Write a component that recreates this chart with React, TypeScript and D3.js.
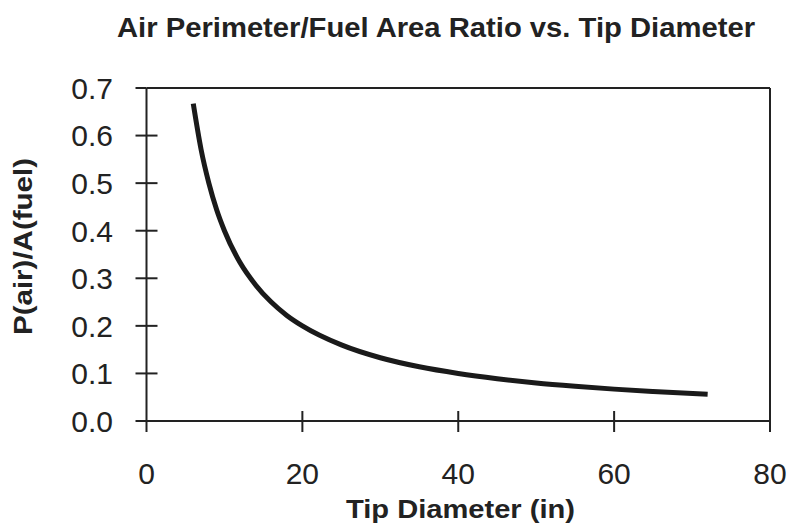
import React from "react";
import * as d3 from "d3";

const diameters = [6, 7, 8, 9, 10, 12, 14, 16, 18, 20, 25, 30, 35, 40, 45, 50, 55, 60, 65, 72];
const ratios = [0.667, 0.571, 0.5, 0.444, 0.4, 0.333, 0.286, 0.25, 0.222, 0.2, 0.16, 0.133, 0.114, 0.1, 0.089, 0.08, 0.073, 0.067, 0.062, 0.056];
const xTicks = [0, 20, 40, 60, 80];
const yTicks = [0, 0.1, 0.2, 0.3, 0.4, 0.5, 0.6, 0.7];

const W = 788;
const H = 528;
const M = { left: 146.5, right: 770, top: 88, bottom: 421 };
const font = "'Liberation Sans', Arial, Helvetica, sans-serif";
const ink = "#222";

export default function App() {
  const x = d3.scaleLinear().domain([0, 80]).range([M.left, M.right]);
  const y = d3.scaleLinear().domain([0, 0.7]).range([M.bottom, M.top]);
  const pts: [number, number][] = diameters.map((d, i) => [d, ratios[i]]);
  const line = d3
    .line<[number, number]>()
    .x((d) => x(d[0]))
    .y((d) => y(d[1]))
    .curve(d3.curveMonotoneX);

  return (
    <svg
      width={W}
      height={H}
      style={{ position: "absolute", left: 0, top: 0, background: "#fff" }}
      fontFamily={font}
    >
      <rect x={0} y={0} width={W} height={H} fill="#fff" />
      <text
        x={117}
        y={37}
        fontWeight="bold"
        fontSize={27}
        fill={ink}
        textLength={638}
        lengthAdjust="spacingAndGlyphs"
      >
        Air Perimeter/Fuel Area Ratio vs. Tip Diameter
      </text>
      {/* frame */}
      <line x1={M.left} x2={M.right} y1={M.top} y2={M.top} stroke={ink} strokeWidth={2} />
      <line x1={M.right} x2={M.right} y1={M.top} y2={M.bottom} stroke={ink} strokeWidth={2} />
      <line x1={M.left} x2={M.left} y1={M.top} y2={M.bottom} stroke={ink} strokeWidth={2} />
      <line x1={M.left} x2={M.right} y1={M.bottom} y2={M.bottom} stroke={ink} strokeWidth={2} />
      {/* y ticks */}
      {yTicks.map((t) => (
        <g key={"y" + t}>
          <line
            x1={M.left - 11}
            x2={t === 0.7 ? M.left : M.left + 11}
            y1={y(t)}
            y2={y(t)}
            stroke={ink}
            strokeWidth={2}
          />
          <text x={113} y={y(t)} dy="0.36em" textAnchor="end" fontSize={30} fill={ink}>
            {t.toFixed(1)}
          </text>
        </g>
      ))}
      {/* x ticks */}
      {xTicks.map((t) => (
        <g key={"x" + t}>
          <line
            x1={x(t)}
            x2={x(t)}
            y1={M.bottom - (t === 0 || t === 80 ? 0 : 10)}
            y2={M.bottom + 11}
            stroke={ink}
            strokeWidth={2}
          />
          <text x={x(t)} y={484} textAnchor="middle" fontSize={30} fill={ink}>
            {t}
          </text>
        </g>
      ))}
      <path d={line(pts) || ""} fill="none" stroke="#1a1a1a" strokeWidth={5} />
      <text
        x={346}
        y={518}
        fontWeight="bold"
        fontSize={26}
        fill={ink}
        textLength={229}
        lengthAdjust="spacingAndGlyphs"
      >
        Tip Diameter (in)
      </text>
      <text
        transform={`translate(32,335) rotate(-90)`}
        fontWeight="bold"
        fontSize={25}
        fill={ink}
        textLength={177}
        lengthAdjust="spacingAndGlyphs"
      >
        P(air)/A(fuel)
      </text>
    </svg>
  );
}
